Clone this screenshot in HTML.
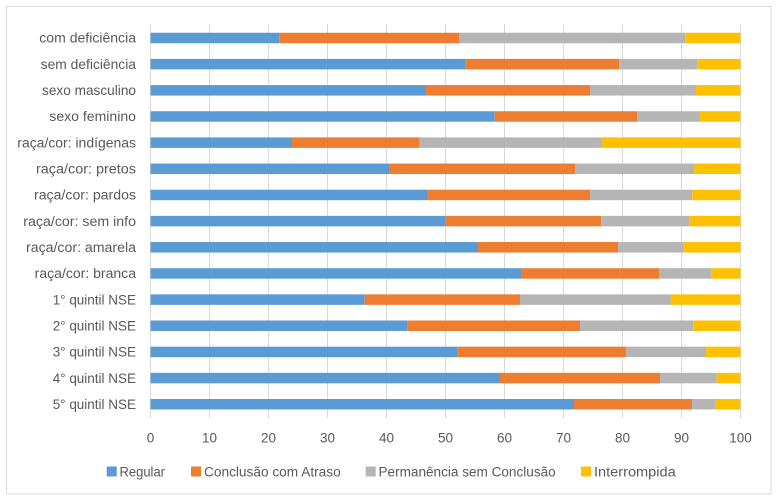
<!DOCTYPE html>
<html><head><meta charset="utf-8"><style>
html,body{margin:0;padding:0;background:#fff;}
svg{display:block;}
text{font-family:"Liberation Sans",sans-serif;fill:#595959;font-size:13.5px;}
</style></head><body>
<svg width="777" height="500" viewBox="0 0 777 500" xmlns="http://www.w3.org/2000/svg">
<rect x="0" y="0" width="777" height="500" fill="#fff"/>
<rect x="6.5" y="6.5" width="764.5" height="487.5" fill="none" stroke="#d9d9d9" stroke-width="1"/>
<g stroke="#d9d9d9" stroke-width="1">
<line x1="150.5" y1="24" x2="150.5" y2="418"/>
<line x1="209.5" y1="24" x2="209.5" y2="418"/>
<line x1="268.5" y1="24" x2="268.5" y2="418"/>
<line x1="327.5" y1="24" x2="327.5" y2="418"/>
<line x1="386.5" y1="24" x2="386.5" y2="418"/>
<line x1="445.5" y1="24" x2="445.5" y2="418"/>
<line x1="504.5" y1="24" x2="504.5" y2="418"/>
<line x1="563.5" y1="24" x2="563.5" y2="418"/>
<line x1="622.5" y1="24" x2="622.5" y2="418"/>
<line x1="681.5" y1="24" x2="681.5" y2="418"/>
<line x1="740.5" y1="24" x2="740.5" y2="418"/>
</g>
<g>
<!-- row0 -->
<rect x="150.5" y="32.75" width="128.8" height="10.5" fill="#5b9bd5"/>
<rect x="279.3" y="32.75" width="179.7" height="10.5" fill="#ed7d31"/>
<rect x="459" y="32.75" width="226.7" height="10.5" fill="#b5b5b5"/>
<rect x="685.7" y="32.75" width="54.8" height="10.5" fill="#ffc000"/>
<!-- row1 -->
<rect x="150.5" y="58.91" width="315.2" height="10.5" fill="#5b9bd5"/>
<rect x="465.7" y="58.91" width="153.3" height="10.5" fill="#ed7d31"/>
<rect x="619" y="58.91" width="78.3" height="10.5" fill="#b5b5b5"/>
<rect x="697.3" y="58.91" width="43.2" height="10.5" fill="#ffc000"/>
<!-- row2 -->
<rect x="150.5" y="85.07" width="275.5" height="10.5" fill="#5b9bd5"/>
<rect x="426" y="85.07" width="164" height="10.5" fill="#ed7d31"/>
<rect x="590" y="85.07" width="106" height="10.5" fill="#b5b5b5"/>
<rect x="696" y="85.07" width="44.5" height="10.5" fill="#ffc000"/>
<!-- row3 -->
<rect x="150.5" y="111.23" width="344.2" height="10.5" fill="#5b9bd5"/>
<rect x="494.7" y="111.23" width="142.6" height="10.5" fill="#ed7d31"/>
<rect x="637.3" y="111.23" width="61.7" height="10.5" fill="#b5b5b5"/>
<rect x="699" y="111.23" width="41.5" height="10.5" fill="#ffc000"/>
<!-- row4 -->
<rect x="150.5" y="137.39" width="141.5" height="10.5" fill="#5b9bd5"/>
<rect x="292" y="137.39" width="127.7" height="10.5" fill="#ed7d31"/>
<rect x="419.7" y="137.39" width="182.3" height="10.5" fill="#b5b5b5"/>
<rect x="602" y="137.39" width="138.5" height="10.5" fill="#ffc000"/>
<!-- row5 -->
<rect x="150.5" y="163.55" width="238.5" height="10.5" fill="#5b9bd5"/>
<rect x="389" y="163.55" width="186.3" height="10.5" fill="#ed7d31"/>
<rect x="575.3" y="163.55" width="119" height="10.5" fill="#b5b5b5"/>
<rect x="694.3" y="163.55" width="46.2" height="10.5" fill="#ffc000"/>
<!-- row6 -->
<rect x="150.5" y="189.71" width="276.5" height="10.5" fill="#5b9bd5"/>
<rect x="427" y="189.71" width="163" height="10.5" fill="#ed7d31"/>
<rect x="590" y="189.71" width="102.3" height="10.5" fill="#b5b5b5"/>
<rect x="692.3" y="189.71" width="48.2" height="10.5" fill="#ffc000"/>
<!-- row7 -->
<rect x="150.5" y="215.87" width="294.5" height="10.5" fill="#5b9bd5"/>
<rect x="445" y="215.87" width="156.3" height="10.5" fill="#ed7d31"/>
<rect x="601.3" y="215.87" width="88.4" height="10.5" fill="#b5b5b5"/>
<rect x="689.7" y="215.87" width="50.8" height="10.5" fill="#ffc000"/>
<!-- row8 -->
<rect x="150.5" y="242.03" width="327.5" height="10.5" fill="#5b9bd5"/>
<rect x="478" y="242.03" width="140" height="10.5" fill="#ed7d31"/>
<rect x="618" y="242.03" width="65.7" height="10.5" fill="#b5b5b5"/>
<rect x="683.7" y="242.03" width="56.8" height="10.5" fill="#ffc000"/>
<!-- row9 -->
<rect x="150.5" y="268.19" width="370.5" height="10.5" fill="#5b9bd5"/>
<rect x="521" y="268.19" width="138" height="10.5" fill="#ed7d31"/>
<rect x="659" y="268.19" width="52.3" height="10.5" fill="#b5b5b5"/>
<rect x="711.3" y="268.19" width="29.2" height="10.5" fill="#ffc000"/>
<!-- row10 -->
<rect x="150.5" y="294.35" width="214.2" height="10.5" fill="#5b9bd5"/>
<rect x="364.7" y="294.35" width="155.3" height="10.5" fill="#ed7d31"/>
<rect x="520" y="294.35" width="150.7" height="10.5" fill="#b5b5b5"/>
<rect x="670.7" y="294.35" width="69.8" height="10.5" fill="#ffc000"/>
<!-- row11 -->
<rect x="150.5" y="320.51" width="257.2" height="10.5" fill="#5b9bd5"/>
<rect x="407.7" y="320.51" width="172.3" height="10.5" fill="#ed7d31"/>
<rect x="580" y="320.51" width="113.3" height="10.5" fill="#b5b5b5"/>
<rect x="693.3" y="320.51" width="47.2" height="10.5" fill="#ffc000"/>
<!-- row12 -->
<rect x="150.5" y="346.67" width="307.2" height="10.5" fill="#5b9bd5"/>
<rect x="457.7" y="346.67" width="168.6" height="10.5" fill="#ed7d31"/>
<rect x="626.3" y="346.67" width="79.7" height="10.5" fill="#b5b5b5"/>
<rect x="706" y="346.67" width="34.5" height="10.5" fill="#ffc000"/>
<!-- row13 -->
<rect x="150.5" y="372.83" width="349.5" height="10.5" fill="#5b9bd5"/>
<rect x="500" y="372.83" width="160" height="10.5" fill="#ed7d31"/>
<rect x="660" y="372.83" width="56.7" height="10.5" fill="#b5b5b5"/>
<rect x="716.7" y="372.83" width="23.8" height="10.5" fill="#ffc000"/>
<!-- row14 -->
<rect x="150.5" y="398.99" width="423.5" height="10.5" fill="#5b9bd5"/>
<rect x="574" y="398.99" width="118" height="10.5" fill="#ed7d31"/>
<rect x="692" y="398.99" width="23.7" height="10.5" fill="#b5b5b5"/>
<rect x="715.7" y="398.99" width="24.8" height="10.5" fill="#ffc000"/>
</g>
<g text-anchor="start">
<text x="39.3" y="42.7" textLength="96.7" lengthAdjust="spacingAndGlyphs">com deficiência</text>
<text x="40.7" y="68.9" textLength="95.3" lengthAdjust="spacingAndGlyphs">sem deficiência</text>
<text x="42" y="95" textLength="94" lengthAdjust="spacingAndGlyphs">sexo masculino</text>
<text x="49.3" y="121.2" textLength="86.7" lengthAdjust="spacingAndGlyphs">sexo feminino</text>
<text x="17.3" y="147.3" textLength="118.7" lengthAdjust="spacingAndGlyphs">raça/cor: indígenas</text>
<text x="36" y="173.5" textLength="100" lengthAdjust="spacingAndGlyphs">raça/cor: pretos</text>
<text x="34" y="199.7" textLength="102" lengthAdjust="spacingAndGlyphs">raça/cor: pardos</text>
<text x="23.3" y="225.8" textLength="112.7" lengthAdjust="spacingAndGlyphs">raça/cor: sem info</text>
<text x="26" y="252" textLength="110" lengthAdjust="spacingAndGlyphs">raça/cor: amarela</text>
<text x="34.7" y="278.1" textLength="101.3" lengthAdjust="spacingAndGlyphs">raça/cor: branca</text>
<text x="52.7" y="304.3" textLength="83.3" lengthAdjust="spacingAndGlyphs">1° quintil NSE</text>
<text x="52.7" y="330.5" textLength="83.3" lengthAdjust="spacingAndGlyphs">2° quintil NSE</text>
<text x="52.7" y="356.6" textLength="83.3" lengthAdjust="spacingAndGlyphs">3° quintil NSE</text>
<text x="52.7" y="382.8" textLength="83.3" lengthAdjust="spacingAndGlyphs">4° quintil NSE</text>
<text x="52.7" y="408.9" textLength="83.3" lengthAdjust="spacingAndGlyphs">5° quintil NSE</text>
</g>
<g text-anchor="middle">
<text x="150.5" y="442.5">0</text>
<text x="209.5" y="442.5">10</text>
<text x="268.5" y="442.5">20</text>
<text x="327.5" y="442.5">30</text>
<text x="386.5" y="442.5">40</text>
<text x="445.5" y="442.5">50</text>
<text x="504.5" y="442.5">60</text>
<text x="563.5" y="442.5">70</text>
<text x="622.5" y="442.5">80</text>
<text x="681.5" y="442.5">90</text>
<text x="740.5" y="442.5">100</text>
</g>
<g>
<rect x="106.7" y="466.5" width="10" height="10" fill="#5b9bd5"/>
<text x="119.5" y="476.3" textLength="45.5" lengthAdjust="spacingAndGlyphs">Regular</text>
<rect x="191" y="466.5" width="10" height="10" fill="#ed7d31"/>
<text x="204" y="476.3" textLength="136.7" lengthAdjust="spacingAndGlyphs">Conclusão com Atraso</text>
<rect x="365.7" y="466.5" width="10" height="10" fill="#b5b5b5"/>
<text x="378.5" y="476.3" textLength="177.2" lengthAdjust="spacingAndGlyphs">Permanência sem Conclusão</text>
<rect x="581" y="466.5" width="10" height="10" fill="#ffc000"/>
<text x="594" y="476.3" textLength="81.7" lengthAdjust="spacingAndGlyphs">Interrompida</text>
</g>
</svg>
</body></html>
